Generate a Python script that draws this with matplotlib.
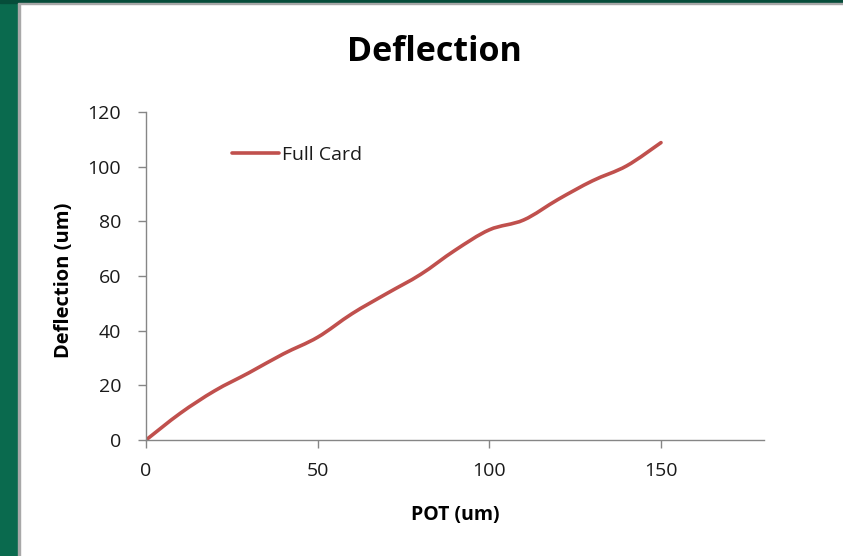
import matplotlib
matplotlib.use("Agg")
import matplotlib.pyplot as plt
from matplotlib.patches import Rectangle, PathPatch
from matplotlib.path import Path
from matplotlib.lines import Line2D

pot_um = [0, 10, 20, 30, 40, 50, 60, 70, 80, 90, 100, 110, 120, 130, 140, 150]
deflection_um = [0, 9.8, 18.0, 24.6, 31.5, 37.6, 46.2, 53.5, 60.6, 69.4, 76.9, 80.5, 88.0, 94.8, 100.3, 108.8]
series_name = "Full Card"
x_ticks = [0, 50, 100, 150]
y_ticks = [0, 20, 40, 60, 80, 100, 120]

LINE_COLOR = '#C0504D'
W, H = 843, 556
plt.rcParams['font.family'] = ['Open Sans', 'DejaVu Sans']
fig = plt.figure(figsize=(W / 100, H / 100), dpi=100)
fig.patch.set_facecolor('white')

# slide background border (green) on left and top
fig.patches.append(Rectangle((0, 0), 18 / W, 1, transform=fig.transFigure, color='#0a6a4e', zorder=0))
fig.patches.append(Rectangle((18 / W, 0), 2 / W, 1 - 3 / H, transform=fig.transFigure, color='#a8a8a8', zorder=0))
fig.patches.append(Rectangle((0, 1 - 3 / H), 1, 3 / H, transform=fig.transFigure, color='#064d3a', zorder=0))
fig.patches.append(Rectangle((18 / W, 1 - 4 / H), 1, 1 / H, transform=fig.transFigure, color='#a8a8a8', zorder=0))

ax = fig.add_axes([146 / W, 1 - 440 / H, (764 - 146) / W, (440 - 112) / H])
ax.set_facecolor('none')

# smoothed (Excel-style) line: cubic Bezier segments through the data points
n = len(pot_um)
verts = [(pot_um[0], deflection_um[0])]
codes = [Path.MOVETO]
for i in range(n - 1):
    x0, y0 = pot_um[max(i - 1, 0)], deflection_um[max(i - 1, 0)]
    x1, y1 = pot_um[i], deflection_um[i]
    x2, y2 = pot_um[i + 1], deflection_um[i + 1]
    x3, y3 = pot_um[min(i + 2, n - 1)], deflection_um[min(i + 2, n - 1)]
    c1 = (x1 + (x2 - x0) / 6, y1 + (y2 - y0) / 6)
    c2 = (x2 - (x3 - x1) / 6, y2 - (y3 - y1) / 6)
    verts += [c1, c2, (x2, y2)]
    codes += [Path.CURVE4] * 3
ax.add_patch(PathPatch(Path(verts, codes), facecolor='none', edgecolor=LINE_COLOR,
                       linewidth=2.6, capstyle='round', joinstyle='round'))

ax.set_xlim(0, 180)
ax.set_ylim(0, 120)
ax.set_xticks(x_ticks)
ax.set_yticks(y_ticks)
for s in ['top', 'right']:
    ax.spines[s].set_visible(False)
for s in ['left', 'bottom']:
    ax.spines[s].set_color('#868686')
    ax.spines[s].set_linewidth(1.0)
ax.tick_params(axis='both', direction='out', length=6, width=1.0, color='#868686',
               labelsize=14, labelcolor='#1a1a1a')
ax.tick_params(axis='y', pad=12)
ax.tick_params(axis='x', pad=10)

fig.text(434 / W, 1 - 52 / H, "Deflection", ha='center', va='center',
         fontsize=24.5, fontweight='bold', color='black')
fig.text(455 / W, 1 - 515 / H, "POT (um)", ha='center', va='center',
         fontsize=14, fontweight='bold', color='black')
fig.text(64 / W, 1 - 280 / H, "Deflection (um)", ha='center', va='center',
         rotation=90, fontsize=14.5, fontweight='bold', color='black')

handle = Line2D([], [], color=LINE_COLOR, linewidth=2.6, solid_capstyle='round')
leg = ax.legend(handles=[handle], labels=[series_name], loc='center left',
                bbox_to_anchor=(232 / W, 1 - 155 / H),
                bbox_transform=fig.transFigure, frameon=False, fontsize=14,
                borderpad=0, borderaxespad=0, handlelength=2.4, handletextpad=0.15)
for t in leg.get_texts():
    t.set_color('#1a1a1a')

fig.savefig('out.png', dpi=100, facecolor=fig.get_facecolor())
